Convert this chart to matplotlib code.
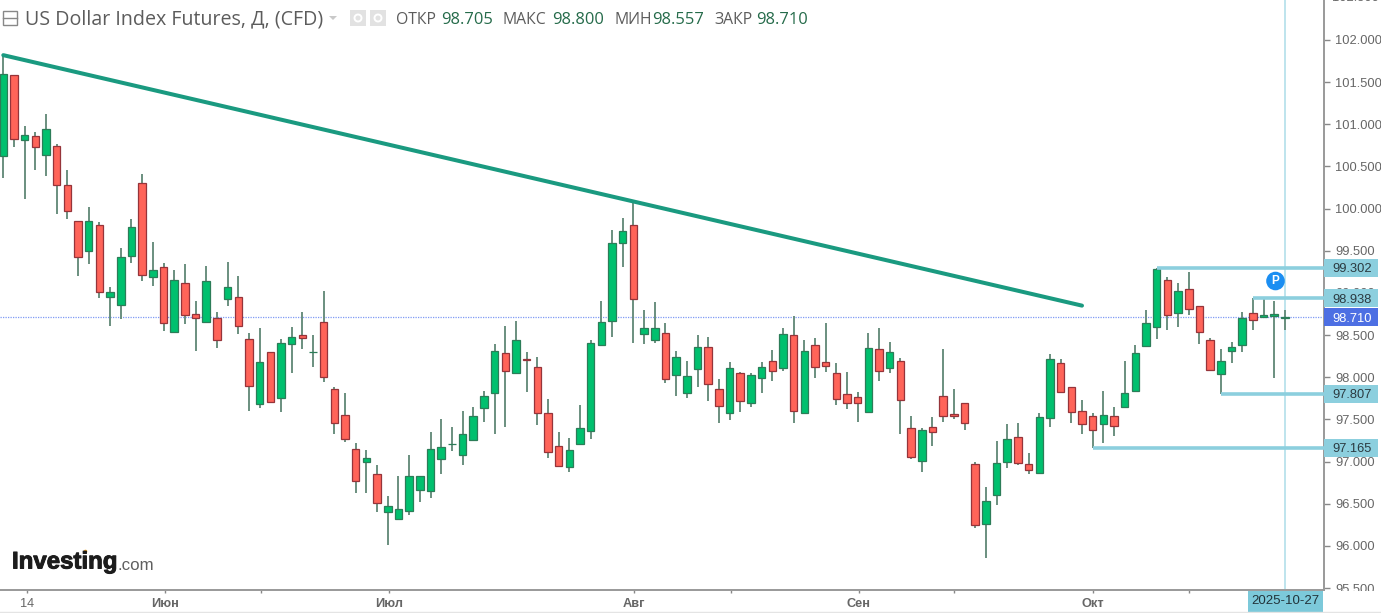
import matplotlib
matplotlib.use("Agg")
import matplotlib.pyplot as plt
import matplotlib.patheffects as pe
from matplotlib.patches import Rectangle, Circle, Polygon

opens = [100.62,101.58,100.81,100.86,100.64,100.74,100.28,99.85,99.50,99.81,
         98.95,98.86,99.44,100.30,99.19,99.31,98.54,99.12,98.75,98.66,
         98.70,98.93,98.95,98.45,97.68,98.30,97.75,98.39,98.50,98.30,
         98.66,97.86,97.55,97.15,96.99,96.85,96.40,96.32,96.41,96.66,
         96.65,97.03,97.21,97.08,97.26,97.64,97.81,98.29,98.05,98.22,
         98.12,97.58,97.19,96.94,97.21,97.36,98.38,98.67,99.59,99.81,
         98.51,98.44,98.53,98.03,97.81,98.10,98.36,97.86,97.58,98.05,
         97.70,97.99,98.19,98.11,98.50,97.58,98.38,98.18,98.05,97.80,
         97.77,97.59,98.34,98.11,98.19,97.40,97.01,97.41,97.78,97.57,
         97.70,96.97,96.26,96.60,97.00,97.29,96.97,96.86,97.52,98.17,
         97.88,97.60,97.54,97.45,97.54,97.65,97.84,98.37,98.60,99.15,
         98.76,99.05,98.85,98.44,98.04,98.31,98.38,98.76,98.71,98.73,
         98.705]
highs = [101.82,101.58,100.98,100.91,101.12,100.77,100.46,99.85,100.02,99.84,
         99.07,99.53,99.88,100.41,99.60,99.36,99.27,99.34,98.90,99.32,
         98.77,99.37,99.20,98.53,98.58,98.30,98.45,98.60,98.77,98.50,
         99.02,97.88,97.81,97.22,97.14,96.96,96.59,96.83,97.08,96.83,
         97.35,97.51,97.41,97.60,97.65,97.84,98.39,98.61,98.67,98.30,
         98.24,97.74,97.35,97.28,97.67,98.44,98.90,99.75,99.89,100.07,
         98.80,98.89,98.64,98.31,98.19,98.50,98.48,97.98,98.18,98.06,
         98.05,98.18,98.32,98.58,98.73,98.44,98.47,98.64,98.17,98.06,
         97.83,98.53,98.58,98.42,98.23,97.54,97.40,97.53,98.34,97.86,
         97.70,97.00,96.70,97.24,97.45,97.46,97.10,97.58,98.28,98.22,
         97.88,97.73,97.58,97.84,97.65,98.19,98.38,98.80,99.302,99.19,
         99.12,99.25,98.85,98.47,98.34,98.42,98.77,98.938,98.93,98.90,
         98.80]
lows = [100.36,100.73,100.11,100.46,100.39,99.94,99.88,99.20,99.34,98.94,
        98.61,98.69,99.36,99.14,99.08,98.55,98.54,98.63,98.31,98.64,
        98.35,98.85,98.51,97.60,97.64,97.71,97.59,98.05,98.34,98.12,
        97.94,97.33,97.23,96.63,96.63,96.40,96.01,96.31,96.37,96.52,
        96.57,96.85,97.13,96.96,97.26,97.47,97.33,97.41,98.05,97.83,
        97.43,97.04,96.95,96.88,97.21,97.27,98.38,98.48,99.31,98.41,
        98.39,98.41,97.93,97.78,97.75,97.88,97.72,97.46,97.49,97.59,
        97.65,97.81,97.96,98.07,97.46,97.58,97.99,98.06,97.67,97.62,
        97.47,97.59,97.96,98.05,97.33,97.03,96.88,97.19,97.47,97.51,
        97.37,96.21,95.86,96.49,96.92,96.96,96.85,96.86,97.41,97.83,
        97.46,97.33,97.165,97.22,97.30,97.65,97.84,98.37,98.45,98.56,
        98.60,98.74,98.39,98.07,97.807,98.17,98.30,98.56,98.71,97.99,
        98.557]
closes = [101.60,100.83,100.87,100.73,100.94,100.28,99.97,99.43,99.85,99.01,
          99.01,99.43,99.78,99.21,99.27,98.64,99.15,98.74,98.70,99.14,
          98.44,99.07,98.61,97.90,98.18,97.71,98.41,98.48,98.47,98.30,
          98.00,97.46,97.27,96.77,97.04,96.51,96.47,96.44,96.83,96.83,
          97.15,97.17,97.21,97.33,97.54,97.78,98.31,98.07,98.44,98.20,
          97.58,97.11,96.95,97.14,97.40,98.41,98.66,99.59,99.73,98.93,
          98.58,98.58,97.98,98.24,98.02,98.36,97.92,97.66,98.11,97.72,
          98.03,98.12,98.07,98.51,97.60,98.31,98.12,98.13,97.74,97.70,
          97.70,98.35,98.07,98.30,97.73,97.06,97.37,97.35,97.54,97.54,
          97.46,96.25,96.53,96.98,97.27,96.98,96.90,97.53,98.22,97.83,
          97.59,97.45,97.37,97.55,97.42,97.81,98.29,98.64,99.28,98.74,
          99.02,98.81,98.54,98.09,98.19,98.36,98.70,98.68,98.74,98.75,
          98.710]

trend_x = [0, 101]
trend_y = [101.82, 98.85]
levels = [99.302, 98.938, 97.807, 97.165]
level_start = [108, 117, 114, 102]
last_price = 98.710
y_ticks = [95.5, 96.0, 96.5, 97.0, 97.5, 98.0, 98.5, 99.0, 99.5, 100.0, 100.5, 101.0, 101.5, 102.0, 102.5]
x_tick_pos = [2.2, 15.1, 24.1, 36.1, 59.05, 68.1, 80.1, 89.0, 102.0, 111.0, 120.0]
x_tick_lab = ["14", "Июн", "", "Июл", "Авг", "", "Сен", "", "Окт", "", ""]
header_title = "US Dollar Index Futures, Д, (CFD)"
ohlc_names = ["ОТКР", "МАКС", "МИН", "ЗАКР"]
ohlc_vals = ["98.705", "98.800", "98.557", "98.710"]

W, H = 1381, 613
GREEN, RED = "#00c06e", "#ff6459"
GREEN_E, RED_E = "#2c7d58", "#96343a"
WICK = "#6a8f7f"
TEAL = "#1a9a80"
LEVEL = "#8ccfde"
UI = "Open Sans"
AXF = "Liberation Sans"
AXSIZE = 9.3

fig = plt.figure(figsize=(W / 100, H / 100), dpi=100, facecolor="white")
ax = fig.add_axes([0, 1 - 590 / H, 1324 / W, 590 / H])
ax.set_xlim(-0.309, 123.66)
ax.set_ylim(95.478, 102.474)
for s in ("top", "left"):
    ax.spines[s].set_visible(False)
for s in ("right", "bottom"):
    ax.spines[s].set_color("#999999")
    ax.spines[s].set_linewidth(1.4)

idx = list(range(len(opens)))
colors = [GREEN if c >= o else RED for o, c in zip(opens, closes)]
edges = [GREEN_E if c >= o else RED_E for o, c in zip(opens, closes)]
ax.axhline(last_price, color="#7f9af5", lw=0.9, ls=(0, (1, 1)), zorder=1)
ax.vlines(idx, lows, highs, color=WICK, lw=1.4, zorder=2)
ax.bar(idx, [abs(c - o) for o, c in zip(opens, closes)],
       bottom=[min(o, c) for o, c in zip(opens, closes)],
       width=0.7, color=colors, edgecolor=edges, linewidth=0.9, zorder=3)
ax.plot(trend_x, trend_y, color=TEAL, lw=2.9, solid_capstyle="round", zorder=4)
ax.axvline(idx[-1], color="#b9e2ec", lw=1.3, zorder=1.5)
for lv, st in zip(levels, level_start):
    ax.hlines(lv, st, ax.get_xlim()[1], color=LEVEL, lw=2.6, zorder=4)

ax.yaxis.tick_right()
ax.set_yticks([t for t in y_ticks if t <= 102.4])
ax.set_yticklabels([f"{t:.3f}" for t in y_ticks if t <= 102.4],
                   fontfamily=AXF, fontsize=AXSIZE, color="#666666")
ax.tick_params(axis="y", length=4, width=1, color="#888888", pad=4)
ax.text(1.0061, 102.5, "102.500", transform=ax.get_yaxis_transform(), va="center",
        ha="left", fontfamily=AXF, fontsize=AXSIZE, color="#666666", clip_on=False)
ax.set_xticks(x_tick_pos)
ax.set_xticklabels(x_tick_lab, fontfamily=AXF, fontsize=9.2, color="#666666")
for lab, txt in zip(ax.get_xticklabels(), x_tick_lab):
    lab.set_fontweight("normal" if txt == "14" else "bold")
ax.tick_params(axis="x", length=2.5, width=1, color="#888888", pad=3)

# price tags on the right axis
bh = 18 / 84.33
tr = ax.get_yaxis_transform()
for lv in levels + [last_price]:
    blue = lv == last_price
    ax.add_patch(Rectangle((1.0, lv - bh / 2), 54 / 1324, bh, transform=tr,
                           facecolor="#4d6fe3" if blue else LEVEL, edgecolor="none",
                           clip_on=False, zorder=6))
    ax.text(1.0061, lv, f"{lv:.3f}", transform=tr, va="center_baseline", ha="left",
            fontfamily=AXF, fontsize=AXSIZE, color="white" if blue else "#2b3a40",
            clip_on=False, zorder=7)

# overlay in figure pixels: header, logo, tags
ov = fig.add_axes([0, 0, 1, 1], facecolor="none", zorder=5)
ov.set_xlim(0, W)
ov.set_ylim(H, 0)
ov.axis("off")
ov.add_patch(Rectangle((1324.7, 590.7), W - 1324, 23, facecolor="white", edgecolor="none"))
ov.plot([0, W], [612.3, 612.3], color="#e4e4e4", lw=1)
ov.add_patch(Rectangle((1248, 590.5), 75.5, 22, facecolor="#7cc9da", edgecolor="none"))
ov.text(1285.5, 601.5, "2025-10-27", ha="center", va="center", fontfamily=AXF,
        fontsize=9.5, color="#22333a")
ov.add_patch(Circle((1275.5, 281), 9.3, facecolor="#1b8ef2", edgecolor="none"))
ov.text(1275.5, 280.5, "P", ha="center", va="center", fontfamily=AXF, fontsize=8.5,
        fontweight="bold", color="white")

ov.add_patch(Rectangle((3, 10.5), 14, 14, facecolor="none", edgecolor="#888888", lw=1))
ov.plot([3, 17], [17.5, 17.5], color="#888888", lw=1)
ov.text(25, 19, header_title, ha="left", va="center", fontfamily=UI, fontsize=14.1, color="#5c5c5c")
ov.add_patch(Polygon([[329, 16], [337, 16], [333, 20]], facecolor="#c9c9c9", edgecolor="none"))
for x0 in (350, 370):
    ov.add_patch(Rectangle((x0, 10), 16, 16, facecolor="#e2e2e2", edgecolor="none"))
    ov.add_patch(Circle((x0 + 8, 18), 3.5, facecolor="none", edgecolor="white", lw=1.4))

name_x = [396, 503, 615, 714]
val_x = [441, 552, 652, 756]
for n, v, nx, vx in zip(ohlc_names, ohlc_vals, name_x, val_x):
    ov.text(nx, 20, n, ha="left", va="center", fontfamily=UI, fontsize=11.3, color="#5c5c5c")
    ov.text(vx, 20, v, ha="left", va="center", fontfamily=UI, fontsize=11.9, color="#256b4a")

ov.text(12, 562, "Investing", ha="left", va="center", fontfamily=AXF, fontsize=17.3,
        fontweight="bold", color="#1c1c1c",
        path_effects=[pe.withStroke(linewidth=0.7, foreground="#1c1c1c")])
ov.text(118, 565, ".com", ha="left", va="center", fontfamily=AXF, fontsize=12.2, color="#5f5f5f")
ov.add_patch(Circle((85.5, 551.5), 1.8, facecolor="#f5a623", edgecolor="none"))

fig.savefig("out.png", dpi=100, facecolor="white")
